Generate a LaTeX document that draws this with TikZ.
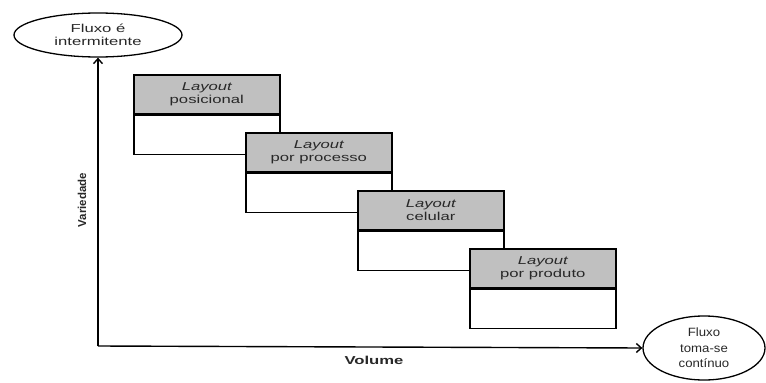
\documentclass[tikz,border=0pt]{standalone}
\usepackage{fontspec}
\setmainfont{Liberation Sans}
\newfontfamily\widesans[FakeStretch=1.45]{Liberation Sans}
\newfontfamily\roundsans[FakeStretch=1.1]{Liberation Sans}
\usetikzlibrary{shapes.geometric,arrows.meta}
\definecolor{headgray}{RGB}{192,192,192}
\definecolor{inkgray}{RGB}{40,40,40}
\begin{document}
\begin{tikzpicture}[
        x=1pt, y=-1pt,
        stage/.style={draw, line width=1.6pt, minimum width=146pt, minimum height=39pt, inner sep=0pt, anchor=north west},
        flow/.style={ellipse, draw, line width=1.3pt, inner sep=0pt, align=center, text=inkgray},
        axis/.style={line width=1.4pt, -{Straight Barb[length=5pt, width=9pt]}},
        boxfont/.style={font=\widesans\fontsize{11.5}{13.5}\selectfont, text=inkgray, align=center}
    ]
        \useasboundingbox (0,0) rectangle (766,383);
        % Flow ellipses
        \node[flow, minimum width=168pt, minimum height=44pt, font=\widesans\fontsize{11.5}{13.5}\selectfont] (Ftop) at (98,35) {Fluxo é\\intermitente};
        \node[flow, minimum width=122pt, minimum height=64pt, font=\roundsans\fontsize{12}{15.5}\selectfont] (Fbot) at (704,348) {Fluxo\\toma-se\\contínuo};
        
        % Layout stages
        \foreach \i/\txt in {1/posicional, 2/por processo, 3/celular, 4/por produto} {
            \node[stage, fill=headgray, boxfont] (H\i) at (133+112*\i-112, 74+58*\i-58) {{\itshape Layout}\\\txt};
            \node[stage, fill=white] (B\i) at (H\i.south west) {};
        }
        
        % Axes
        \coordinate (O) at (98,346);
        \draw[axis] (O) -- (Ftop);
        \draw[axis] (O) -- (Fbot.west);
        
        % Axis labels
        \node[font=\widesans\bfseries\fontsize{11.5}{13.5}\selectfont, text=inkgray] (vol) at (374,360) {Volume};
        \node[rotate=90, font=\bfseries\fontsize{11.5}{13.5}\selectfont, text=inkgray] (var) at (82,200) {Variedade};
    \end{tikzpicture}
\end{document}
